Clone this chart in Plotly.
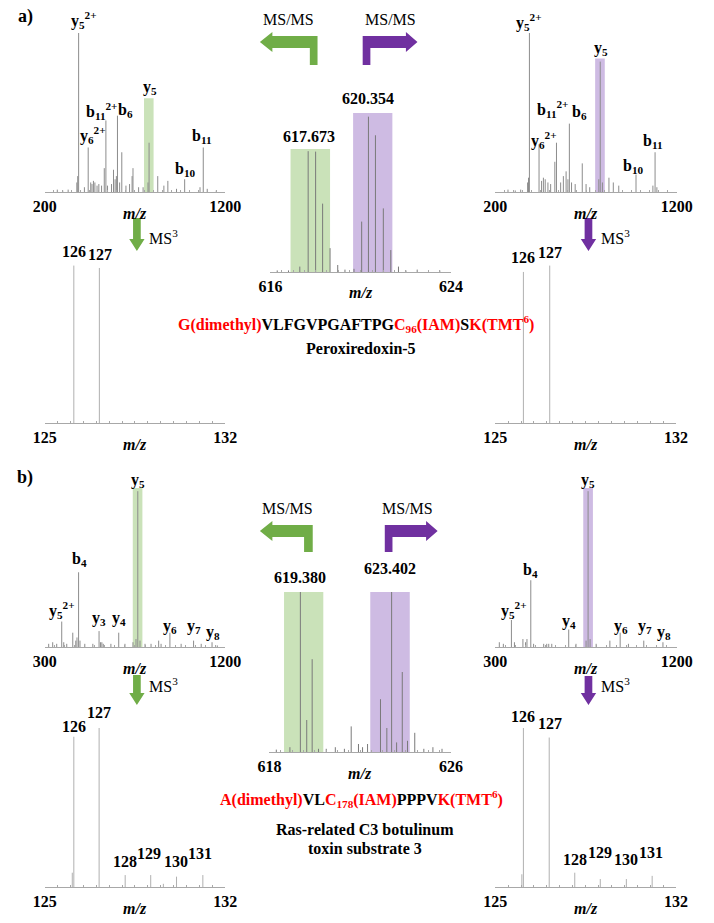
import plotly.graph_objects as go

W, H = 714, 923
SERIF = "Liberation Serif"
GREEN = "#70ad47"
PURPLE = "#7030a0"
GREEN_BAND = "rgba(169,209,142,0.62)"
PURPLE_BAND = "rgba(176,146,210,0.62)"
RED = "#ff0000"
AXIS = "#a8a8a8"
Y_MAX = 120  # headroom above the 100 % level for the peak labels

# ------------------------------------------------------------------ data
# a) MS/MS of light (green) precursor 617.673
a_ms2_L_mz = [270, 300, 330, 378, 383, 388, 420, 441, 455, 462, 470, 478, 490, 500, 515, 530, 539, 548,
              570, 581, 590, 597, 603, 615, 627, 650, 670, 684, 689, 720, 745, 772, 778, 826, 860, 882,
              930, 975, 1060, 1078, 1100, 1150]
a_ms2_L_int = [1.5, 1, 1.5, 6, 10, 100, 3, 28, 6, 5, 7, 6, 4, 5, 4, 15, 45, 4,
               5, 14, 8, 10, 48, 6, 25, 4, 5, 10, 15, 3, 3, 6, 31, 10, 4, 7,
               2, 8, 3, 28, 2, 1]
a_ms2_L_band = (750, 803, 59)
a_ms2_L_lab = [("y<sub>5</sub><sup>2+</sup>", 418, 108), ("y<sub>6</sub><sup>2+</sup>", 466, 36),
               ("b<sub>11</sub><sup>2+</sup>", 515, 51), ("b<sub>6</sub>", 648, 51),
               ("y<sub>5</sub>", 782, 66), ("b<sub>10</sub>", 977, 14), ("b<sub>11</sub>", 1070, 35)]

# a) MS/MS of heavy (purple) precursor 620.354
a_ms2_H_mz = [270, 310, 340, 378, 383, 388, 441, 455, 465, 475, 490, 505, 528, 537, 560, 575, 590, 600,
              608, 620, 640, 679, 700, 720, 770, 778, 790, 826, 850, 880, 975, 1068, 1080, 1090]
a_ms2_H_int = [1.5, 1, 1.5, 6, 9, 100, 30, 7, 9, 8, 6, 5, 19, 31, 6, 10, 13, 8,
               43, 6, 5, 18, 5, 3, 8, 82, 6, 9, 6, 4, 11, 4, 25, 3]
a_ms2_H_band = (750, 803, 84)
a_ms2_H_lab = [("y<sub>5</sub><sup>2+</sup>", 383, 107), ("y<sub>6</sub><sup>2+</sup>", 469, 33),
               ("b<sub>11</sub><sup>2+</sup>", 514, 52), ("b<sub>6</sub>", 662, 50),
               ("y<sub>5</sub>", 782, 90), ("b<sub>10</sub>", 963, 16), ("b<sub>11</sub>", 1070, 32)]

# a) precursor MS
a_ms1_mz = [616.3, 616.8, 617.30, 617.67, 618.00, 618.31, 618.64, 618.98, 619.30, 619.70, 620.04, 620.34,
            620.65, 621.00, 621.33, 621.67, 622.0, 622.5, 623.0, 623.5]
a_ms1_int = [1, 1, 3.4, 76, 75.7, 43, 15, 4.4, 1.5, 2, 31.7, 97.7,
             86, 40, 13.8, 3.4, 1, 1.5, 1, 1]
a_ms1_band_L = (616.89, 618.64, 77.4)
a_ms1_band_H = (619.66, 621.40, 100)
a_ms1_lab = [("617.673", 617.70, 85), ("620.354", 620.30, 109)]

# a) MS3 reporter ions
a_ms3_L_mz = [126.13, 127.12]
a_ms3_L_int = [99, 97.5]
a_ms3_L_lab = [("126", 126.14, 108), ("127", 127.14, 106)]
a_ms3_H_mz = [126.09, 127.11]
a_ms3_H_int = [95, 99]
a_ms3_H_lab = [("126", 126.06, 104), ("127", 127.12, 107)]

# b) MS/MS of light (green) precursor 619.380
b_ms2_L_mz = [320, 340, 360, 385, 395, 410, 440, 455, 461, 469, 476, 500, 540, 571, 578, 585, 592, 630,
              669, 700, 740, 755, 764, 775, 800, 830, 868, 880, 924, 980, 1042, 1080, 1134, 1160]
b_ms2_L_int = [2, 3, 2, 16, 3, 2, 9, 4, 6, 47, 4, 2, 2, 10, 3, 3, 2, 2,
               9, 2, 3, 5, 98, 4, 2, 2, 4, 2, 9, 2, 4, 2, 3, 1]
b_ms2_L_band = (739, 787, 100)
b_ms2_L_lab = [("y<sub>5</sub>", 767, 105), ("b<sub>4</sub>", 472, 55), ("y<sub>5</sub><sup>2+</sup>", 384, 23),
               ("y<sub>3</sub>", 571, 18), ("y<sub>4</sub>", 672, 18), ("y<sub>6</sub>", 924, 13),
               ("y<sub>7</sub>", 1043, 13), ("y<sub>8</sub>", 1138, 9)]

# b) MS/MS of heavy (purple) precursor 623.402
b_ms2_H_mz = [320, 340, 380, 395, 437, 450, 457, 476, 490, 540, 555, 565, 580, 664, 700, 750, 760, 770,
              800, 868, 919, 960, 1036, 1131]
b_ms2_H_int = [3, 2, 17, 3, 5, 3, 5, 42, 2, 2, 2, 2, 2, 11, 2, 4, 98, 5,
               2, 4, 9, 2, 4, 3]
b_ms2_H_band = (736, 784, 100)
b_ms2_H_lab = [("y<sub>5</sub>", 762, 105), ("b<sub>4</sub>", 477, 48), ("y<sub>5</sub><sup>2+</sup>", 393, 23),
               ("y<sub>4</sub>", 666, 16), ("y<sub>6</sub>", 925, 13), ("y<sub>7</sub>", 1042, 13),
               ("y<sub>8</sub>", 1138, 9)]

# b) precursor MS
b_ms1_mz = [618.3, 618.9, 619.36, 619.64, 619.88, 620.16, 620.5, 620.9, 621.3, 621.6, 621.92, 622.1, 622.32,
            622.89, 623.17, 623.38, 623.6, 623.85, 624.08, 624.4, 624.8, 625.2, 625.6]
b_ms1_int = [1.5, 3, 100, 20, 58, 2, 2, 3, 2, 16, 5, 3, 5,
             33, 15, 100, 6, 50, 7, 12, 2, 3, 2]
b_ms1_band_L = (618.64, 620.37, 100)
b_ms1_band_H = (622.44, 624.18, 100)
b_ms1_lab = [("619.380", 619.36, 109), ("623.402", 623.30, 115)]

# b) MS3 reporter ions
b_ms3_L_mz = [126.07, 126.13, 127.11, 128.12, 129.11, 129.6, 130.11, 131.13]
b_ms3_L_int = [9, 94.5, 100, 7.5, 7.5, 2, 6.5, 7.5]
b_ms3_L_lab = [("126", 126.14, 101), ("127", 127.12, 110), ("128", 128.12, 16), ("129", 129.04, 21),
               ("130", 130.10, 16), ("131", 131.03, 21)]
b_ms3_H_mz = [126.03, 126.09, 127.09, 128.08, 129.07, 130.08, 131.08]
b_ms3_H_int = [8, 100, 94, 9, 5, 5, 7]
b_ms3_H_lab = [("126", 126.08, 107), ("127", 127.12, 103), ("128", 128.08, 17), ("129", 129.04, 22),
               ("130", 130.06, 17), ("131", 131.03, 22)]

# ------------------------------------------------------------------ panels
# (mz, int, x-range, bands, labels, pixel box [x0, x1, y(100 %), ybase], line colour, minor step)
panels = [
    (a_ms2_L_mz, a_ms2_L_int, (200, 1200), [(a_ms2_L_band, GREEN_BAND)], a_ms2_L_lab, (34, 222, 33, 192), "#8c8c8c", 50),
    (a_ms2_H_mz, a_ms2_H_int, (200, 1200), [(a_ms2_H_band, PURPLE_BAND)], a_ms2_H_lab, (503, 692, 33, 192), "#8c8c8c", 50),
    (a_ms1_mz, a_ms1_int, (616, 624), [(a_ms1_band_L, GREEN_BAND), (a_ms1_band_H, PURPLE_BAND)], a_ms1_lab, (269, 457, 113, 272), "#7a7a7a", 0.5),
    (a_ms3_L_mz, a_ms3_L_int, (125, 132), [], a_ms3_L_lab, (34, 222, 264, 423), "#b0b0b0", 0.5),
    (a_ms3_H_mz, a_ms3_H_int, (125, 132), [], a_ms3_H_lab, (503, 691, 264, 423), "#b0b0b0", 0.5),
    (b_ms2_L_mz, b_ms2_L_int, (300, 1200), [(b_ms2_L_band, GREEN_BAND)], b_ms2_L_lab, (34, 222, 488, 647), "#8c8c8c", 50),
    (b_ms2_H_mz, b_ms2_H_int, (300, 1200), [(b_ms2_H_band, PURPLE_BAND)], b_ms2_H_lab, (503, 692, 488, 647), "#8c8c8c", 50),
    (b_ms1_mz, b_ms1_int, (618, 626), [(b_ms1_band_L, GREEN_BAND), (b_ms1_band_H, PURPLE_BAND)], b_ms1_lab, (268, 457, 592, 752), "#7a7a7a", 0.5),
    (b_ms3_L_mz, b_ms3_L_int, (125, 132), [], b_ms3_L_lab, (34, 222, 728, 887), "#b0b0b0", 0.5),
    (b_ms3_H_mz, b_ms3_H_int, (125, 132), [], b_ms3_H_lab, (503, 691, 728, 887), "#b0b0b0", 0.5),
]


def fx(px):
    return px / W


def fy(py):
    return 1 - py / H


fig = go.Figure()
shapes = []
annotations = []
layout = {}


def bold(t):
    return "<b>" + t + "</b>"


for i, (mz, inten, xr, bands, labs, box, lc, mstep) in enumerate(panels):
    n = i + 1
    xa = "x" if n == 1 else f"x{n}"
    ya = "y" if n == 1 else f"y{n}"
    xs, ys = [], []
    for m, h in zip(mz, inten):
        xs += [m, m, None]
        ys += [0, h, None]
    fig.add_trace(go.Scatter(x=xs, y=ys, mode="lines", line=dict(color=lc, width=1),
                             xaxis=xa, yaxis=ya, hoverinfo="skip", showlegend=False))
    x0, x1, yt, yb = box
    ytop = yb - (yb - yt) * Y_MAX / 100.0
    minor_vals = []
    v = xr[0] + mstep
    while v < xr[1] - 1e-9:
        minor_vals.append(round(v, 3))
        v += mstep
    layout["xaxis" if n == 1 else f"xaxis{n}"] = dict(
        domain=[fx(x0), fx(x1)], anchor=ya, range=list(xr),
        tickmode="array", tickvals=list(xr), ticktext=[bold(str(t)) for t in xr],
        tickfont=dict(family=SERIF, size=16, color="black"), ticks="",
        showline=True, linecolor=AXIS, linewidth=1, showgrid=False, zeroline=False,
        minor=dict(tickmode="array", tickvals=minor_vals, ticks="inside", ticklen=2,
                   tickcolor=AXIS, showgrid=False),
        fixedrange=True)
    layout["yaxis" if n == 1 else f"yaxis{n}"] = dict(
        domain=[fy(yb), fy(ytop)], anchor=xa, range=[0, Y_MAX], visible=False, fixedrange=True)
    for (b0, b1, top), col in bands:
        shapes.append(dict(type="rect", xref=xa, yref=ya, x0=b0, x1=b1, y0=0, y1=top,
                           fillcolor=col, line=dict(width=0), layer="below"))
    for txt, lx, ly in labs:
        annotations.append(dict(text=bold(txt), x=lx, y=ly, xref=xa, yref=ya, showarrow=False,
                                xanchor="center", yanchor="middle",
                                font=dict(family=SERIF, size=16, color="black")))
    annotations.append(dict(text="<b><i>m/z</i></b>", x=0.5, y=0, xref=f"{xa} domain", yref=f"{ya} domain",
                            showarrow=False, xanchor="center", yanchor="middle", yshift=-21,
                            font=dict(family=SERIF, size=16, color="black")))


def poly(points, color):
    d = "M " + " L ".join(f"{fx(x):.5f},{fy(y):.5f}" for x, y in points) + " Z"
    return dict(type="path", xref="paper", yref="paper", path=d, fillcolor=color, line=dict(width=0))


def l_arrow_left(xt, xh, xl, xr, y0, y1, yb, e, color):
    ym = (y0 + y1) / 2
    return poly([(xr, y0), (xh, y0), (xh, y0 - e), (xt, ym), (xh, y1 + e), (xh, y1),
                 (xl, y1), (xl, yb), (xr, yb)], color)


def l_arrow_right(xt, xh, xl, xr, y0, y1, yb, e, color):
    ym = (y0 + y1) / 2
    return poly([(xl, y0), (xh, y0), (xh, y0 - e), (xt, ym), (xh, y1 + e), (xh, y1),
                 (xr, y1), (xr, yb), (xl, yb)], color)


def down_arrow(xc, ytop, yh, ytip, color):
    return poly([(xc - 4, ytop), (xc + 4, ytop), (xc + 4, yh), (xc + 8, yh), (xc, ytip),
                 (xc - 8, yh), (xc - 4, yh)], color)


# MS/MS arrows
shapes.append(l_arrow_left(258, 271, 310, 318, 36, 48, 65, 4, GREEN))
shapes.append(l_arrow_right(422, 410, 365, 373, 36, 48, 65, 4, PURPLE))
shapes.append(l_arrow_left(258, 271, 304, 313, 525, 537, 552, 4, GREEN))
shapes.append(l_arrow_right(443, 431, 388, 396, 525, 537, 552, 4, PURPLE))
# MS3 arrows
shapes.append(down_arrow(130, 218, 239, 251, GREEN))
shapes.append(down_arrow(600, 218, 239, 251, PURPLE))
shapes.append(down_arrow(130, 675, 693, 705, GREEN))
shapes.append(down_arrow(600, 676, 693, 705, PURPLE))


def ptext(txt, x, y, size=16, bold_=True, color="black"):
    annotations.append(dict(text=bold(txt) if bold_ else txt, x=fx(x), y=fy(y), xref="paper", yref="paper",
                            showarrow=False, xanchor="center", yanchor="middle",
                            font=dict(family=SERIF, size=size, color=color)))


ptext("MS/MS", 288, 19, bold_=False)
ptext("MS/MS", 394, 19, bold_=False)
ptext("MS/MS", 287, 508, bold_=False)
ptext("MS/MS", 412, 508, bold_=False)
ptext("MS<sup>3</sup>", 158, 237, bold_=False)
ptext("MS<sup>3</sup>", 628, 237, bold_=False)
ptext("MS<sup>3</sup>", 158, 685, bold_=False)
ptext("MS<sup>3</sup>", 628, 685, bold_=False)
ptext("a)", 14, 16, size=18)
ptext("b)", 14, 478, size=18)


def red(t):
    return f'<span style="color:{RED}">{t}</span>'


pep_a = red("G(dimethyl)") + "VLFGVPGAFTPG" + red("C<sub>96</sub>(IAM)") + "S" + red("K(TMT<sup>6</sup>)")
pep_b = red("A(dimethyl)") + "VL" + red("C<sub>178</sub>(IAM)") + "PPPV" + red("K(TMT<sup>6</sup>)")
ptext(pep_a, 358, 324)
ptext("Peroxiredoxin-5", 363, 349)
ptext(pep_b, 364, 799)
ptext("Ras-related C3 botulinum", 367, 829)
ptext("toxin substrate 3", 367, 848)

fig.update_layout(width=W, height=H, margin=dict(l=0, r=0, t=0, b=0), autosize=False,
                  paper_bgcolor="white", plot_bgcolor="rgba(0,0,0,0)",
                  shapes=shapes, annotations=annotations, showlegend=False, **layout)
fig.write_html("out.html", config={"displayModeBar": False},
               post_script="document.body.style.margin='0px';document.body.style.overflow='hidden';")
